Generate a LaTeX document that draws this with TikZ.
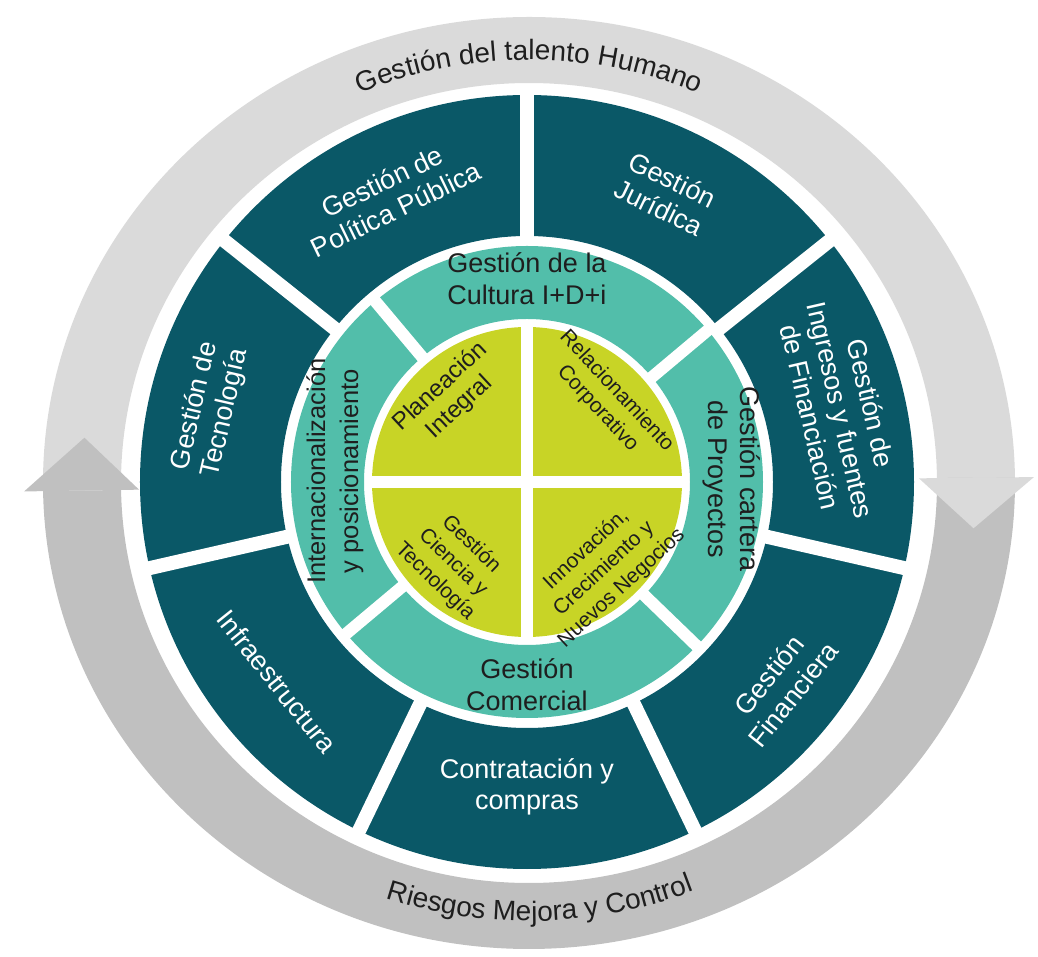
\documentclass[tikz,border=0pt]{standalone}
\usepackage{fontspec}
\setmainfont{Liberation Sans}
\usetikzlibrary{decorations.text}
\definecolor{petrol}{RGB}{10,88,103}
\definecolor{aqua}{RGB}{82,190,170}
\definecolor{corelime}{RGB}{200,212,38}
\definecolor{greyA}{RGB}{218,218,218}
\definecolor{greyB}{RGB}{192,192,192}
\definecolor{ink}{RGB}{30,30,30}
\tikzset{
  outerlbl/.style={text=white, align=center, font=\fontsize{27}{31}\selectfont},
  midlbl/.style={text=ink, align=center, font=\fontsize{27}{32}\selectfont},
  corelbl/.style={text=ink, align=center, font=\fontsize{21}{26}\selectfont},
  gapline/.style={white, line width=12pt},
  ringtext/.style={decorate, decoration={text along path, text align=center, text={|\fontsize{28}{28}\selectfont\color{ink}|#1}}}
}
\begin{document}
\begin{tikzpicture}[x=1pt,y=1pt]
\useasboundingbox (-527,-475) rectangle (511,482);
\begin{scope}[shift={(2,-1)}]
\fill[greyA] (181:486 and 466) arc[start angle=181, end angle=0.7, x radius=486, y radius=466]
  -- (0.7:408 and 400) arc[start angle=0.7, end angle=181, x radius=408, y radius=400] -- cycle;
\fill[greyB] (0.7:486 and 466) arc[start angle=0.7, end angle=-179, x radius=486, y radius=466]
  -- (-179:408 and 400) arc[start angle=-179, end angle=0.7, x radius=408, y radius=400] -- cycle;
\fill[greyB] (181:505 and 484) -- (174:447 and 433) -- (181:390 and 382) -- cycle;
\fill[greyA] (0.7:505 and 484) -- (-6:447 and 433) -- (0.7:390 and 382) -- cycle;
\path[ringtext=Gestión del talento Humano] (150:436 and 423) arc[start angle=150, end angle=30, x radius=436, y radius=423];
\path[ringtext=Riesgos Mejora y Control] (-150:452 and 438) arc[start angle=-150, end angle=-27, x radius=452, y radius=438];
\end{scope}
\fill[petrol, even odd rule] (0,0) circle (387) (0,0) circle (246);
\foreach \k in {0,...,6}
  \draw[gapline, line width=14pt] (90-\k*360/7:238) -- (90-\k*360/7:396);
\fill[aqua, even odd rule] (0,0) circle (236) (0,0) circle (163);
\foreach \a in {40,130,220,316}
  \draw[gapline] (\a:157) -- (\a:242);
\fill[corelime] (0,0) circle (155);
\draw[gapline] (-160,0) -- (160,0);
\draw[gapline] (0,-160) -- (0,160);
\node[outerlbl, rotate=25.7] (politica) at (115.7:318) {Gestión de\\Política Pública};
\node[outerlbl, rotate=-25.7] (juridica) at (64.3:320) {Gestión\\Jurídica};
\node[outerlbl, rotate=-77.1] (ingresos) at (12.9:322) {Gestión de\\Ingresos y fuentes\\de Financiación};
\node[outerlbl, rotate=51.4] (financiera) at (-38.6:325) {Gestión\\Financiera};
\node[outerlbl] (compras) at (-90:305) {Contratación y\\compras};
\node[outerlbl, rotate=-51.4] (infra) at (-141.4:320) {Infraestructura};
\node[outerlbl, rotate=77.1] (tecnologia) at (167.1:325) {Gestión de\\Tecnología};
\node[midlbl] (cultura) at (0,203) {Gestión de la\\Cultura I+D+i};
\node[midlbl] (comercial) at (0,-203) {Gestión\\Comercial};
\node[midlbl, rotate=90, font=\fontsize{25.5}{33}\selectfont] (inter) at (-192,11) {Internacionalización\\y posicionamiento};
\node[midlbl, rotate=-90] (cartera) at (205,3) {Gestión cartera\\de Proyectos};
\node[corelbl, rotate=43, font=\fontsize{24}{28}\selectfont] (planeacion) at (-77,85) {Planeación\\Integral};
\node[corelbl, rotate=-47] (relacion) at (80,82) {Relacionamiento\\Corporativo};
\node[corelbl, rotate=-44] (ciencia) at (-74,-81) {Gestión\\Ciencia y\\Tecnología};
\node[corelbl, rotate=43] (innovacion) at (77,-87) {Innovación,\\Crecimiento y\\Nuevos Negocios};
\end{tikzpicture}
\end{document}
